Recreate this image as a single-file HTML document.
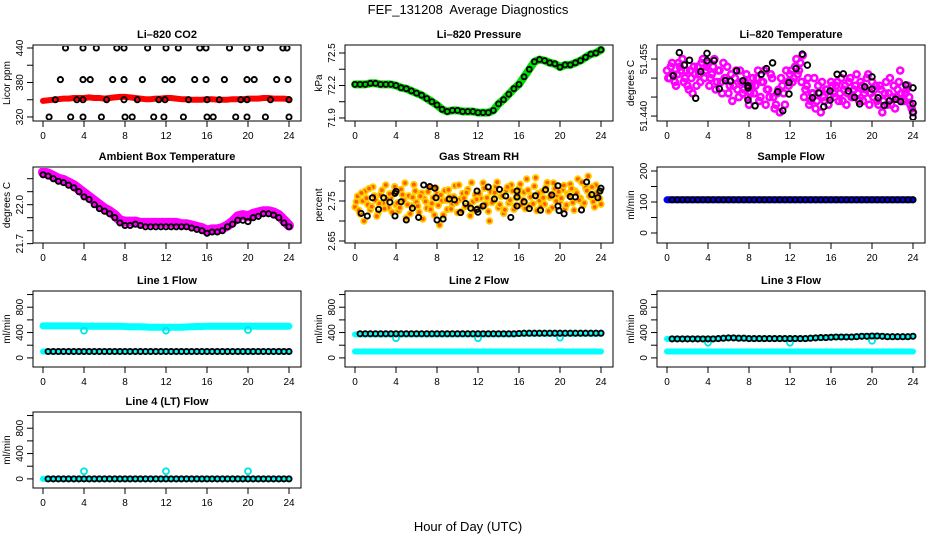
<!DOCTYPE html>
<html><head><meta charset="utf-8"><title>FEF_131208 Average Diagnostics</title>
<style>
html,body{margin:0;padding:0;background:#fff;}
svg{display:block;font-family:"Liberation Sans",sans-serif;}
</style></head>
<body>
<svg id="chart" width="936" height="540" viewBox="0 0 936 540" xmlns="http://www.w3.org/2000/svg">
<rect x="0" y="0" width="936" height="540" fill="#fff"/>
<text x="468" y="14" text-anchor="middle" font-size="13" style="white-space:pre">FEF_131208&#160; Average Diagnostics</text>
<text x="468" y="531" text-anchor="middle" font-size="13">Hour of Day (UTC)</text>
</svg>
<script>
// ---------- data ----------
const xTicks = [0,4,8,12,16,20,24];
const halfHours = [0,0.5,1,1.5,2,2.5,3,3.5,4,4.5,5,5.5,6,6.5,7,7.5,8,8.5,9,9.5,10,10.5,11,11.5,12,12.5,13,13.5,14,14.5,15,15.5,16,16.5,17,17.5,18,18.5,19,19.5,20,20.5,21,21.5,22,22.5,23,23.5,24];
const quarterHours = [0,0.25,0.5,0.75,1,1.25,1.5,1.75,2,2.25,2.5,2.75,3,3.25,3.5,3.75,4,4.25,4.5,4.75,5,5.25,5.5,5.75,6,6.25,6.5,6.75,7,7.25,7.5,7.75,8,8.25,8.5,8.75,9,9.25,9.5,9.75,10,10.25,10.5,10.75,11,11.25,11.5,11.75,12,12.25,12.5,12.75,13,13.25,13.5,13.75,14,14.25,14.5,14.75,15,15.25,15.5,15.75,16,16.25,16.5,16.75,17,17.25,17.5,17.75,18,18.25,18.5,18.75,19,19.25,19.5,19.75,20,20.25,20.5,20.75,21,21.25,21.5,21.75,22,22.25,22.5,22.75,23,23.25,23.5,23.75,24];
const quarterHoursB = [0.125,0.375,0.625,0.875,1.125,1.375,1.625,1.875,2.125,2.375,2.625,2.875,3.125,3.375,3.625,3.875,4.125,4.375,4.625,4.875,5.125,5.375,5.625,5.875,6.125,6.375,6.625,6.875,7.125,7.375,7.625,7.875,8.125,8.375,8.625,8.875,9.125,9.375,9.625,9.875,10.125,10.375,10.625,10.875,11.125,11.375,11.625,11.875,12.125,12.375,12.625,12.875,13.125,13.375,13.625,13.875,14.125,14.375,14.625,14.875,15.125,15.375,15.625,15.875,16.125,16.375,16.625,16.875,17.125,17.375,17.625,17.875,18.125,18.375,18.625,18.875,19.125,19.375,19.625,19.875,20.125,20.375,20.625,20.875,21.125,21.375,21.625,21.875,22.125,22.375,22.625,22.875,23.125,23.375,23.625,23.875];

// CO2
const co2Red = [348,349,350,351,352,352,353,353,353,354,353,353,352,353,354,355,355,354,353,352,351,351,352,352,353,353,352,351,351,350,350,350,351,351,350,350,350,351,351,351,352,352,352,353,353,352,352,352,351];
const co2BlackHours = [2.2,3.9,5.2,7.2,7.9,10.2,12,13.2,15.3,15.9,18.2,19.9,21.2,23.4,23.8, 1.7,3.9,4.6,6.8,7.9,9.7,11.9,12.6,14.8,15.9,17.7,19.9,20.6,22.8,23.9, 1.2,3.3,3.9,6.2,7.9,9.2,11.3,11.9,14.2,16,17.2,19.3,19.9,22.2,24, 0.6,2.7,3.9,5.7,8,8.7,10.8,11.8,13.7,16,16.6,18.8,19.9,21.7,24];
const co2BlackValues = [440,440,440,440,440,440,440,440,440,440,440,440,440,440,440, 385,385,385,385,385,385,385,385,385,385,385,385,385,385,385, 350,350,350,350,350,350,350,350,350,350,350,350,350,350,350, 320,320,320,320,320,320,320,320,320,320,320,320,320,320,320];

// Pressure
const pressure = [72.21,72.21,72.21,72.22,72.22,72.21,72.21,72.21,72.2,72.18,72.17,72.15,72.13,72.11,72.08,72.05,72.02,71.98,71.96,71.97,71.97,71.96,71.96,71.96,71.95,71.95,71.95,71.97,72.03,72.07,72.12,72.17,72.21,72.28,72.35,72.42,72.44,72.43,72.41,72.4,72.37,72.39,72.39,72.41,72.43,72.46,72.49,72.5,72.53];

// Li-820 temperature
const liTempMagenta = [51.452,51.450,51.454,51.449,51.451,51.453,51.455,51.450,51.448,51.452,51.446,51.451,51.453,51.449,51.455,51.452,51.454,
51.450,51.453,51.447,51.452,51.449,51.454,51.450,51.446,51.451,51.448,51.452,51.445,51.449,51.447,51.451,51.443,
51.448,51.446,51.450,51.444,51.449,51.452,51.447,51.445,51.450,51.442,51.446,51.441,51.448,51.443,51.449,51.451,
51.449,51.453,51.451,51.454,51.456,51.447,51.450,51.444,51.446,51.442,51.448,51.441,51.445,51.447,51.443,51.449,
51.446,51.448,51.444,51.450,51.447,51.443,51.449,51.445,51.447,51.451,51.444,51.448,51.446,51.450,51.443,51.449,
51.447,51.444,51.448,51.441,51.446,51.443,51.450,51.445,51.442,51.447,51.452,51.444,51.446,51.448,51.443,51.441];
const liTempMagentaB = [51.450,51.453,51.451,51.448,51.454,51.452,51.449,51.452,51.447,51.450,51.453,51.448,51.451,51.454,51.450,51.453,
51.448,51.451,51.455,51.449,51.452,51.446,51.450,51.453,51.448,51.444,51.450,51.447,51.452,51.446,51.449,51.445,
51.446,51.450,51.448,51.452,51.445,51.449,51.443,51.447,51.451,51.445,51.443,51.447,51.450,51.446,51.452,51.448,
51.452,51.450,51.455,51.452,51.449,51.445,51.448,51.443,51.446,51.450,51.444,51.446,51.449,51.444,51.447,51.445,
51.448,51.445,51.449,51.446,51.444,51.448,51.446,51.450,51.445,51.448,51.446,51.449,51.444,51.447,51.451,51.446,
51.445,51.448,51.443,51.447,51.444,51.449,51.446,51.443,51.448,51.445,51.449,51.446,51.444,51.447,51.445,51.442];
const liTempBlackHours = [0.6,1.2,1.7,2.2,2.8,3.3,3.9,3.9,4.6,5.1,5.7,6.2,6.8,7.4,7.9,7.9,7.9,8.6,9.2,9.7,10.3,10.8,11.3,11.9,11.9,12.6,13.2,13.7,14.2,14.8,15.3,15.9,15.9,16.6,17.2,17.7,18.3,18.8,19.3,20,20,20.6,21.2,21.7,22.3,22.8,23.3,24,24,24,24];
const liTempBlackValues = [51.4506,51.4567,51.4534,51.4547,51.4447,51.4517,51.4546,51.4565,51.4546,51.4472,51.4493,51.4492,51.4519,51.4493,51.448,51.4474,51.4442,51.4427,51.451,51.4525,51.454,51.4464,51.4414,51.4458,51.4488,51.4525,51.4563,51.4534,51.4448,51.4461,51.4425,51.4442,51.4466,51.451,51.4511,51.4466,51.4449,51.4432,51.4477,51.4503,51.4471,51.4448,51.4428,51.444,51.4444,51.4438,51.4482,51.4474,51.4433,51.441,51.4397];

// Ambient box temperature
const ambient = [22.23,22.22,22.2,22.18,22.17,22.15,22.13,22.1,22.06,22.04,22.0,21.97,21.95,21.93,21.9,21.86,21.84,21.84,21.85,21.84,21.83,21.83,21.83,21.83,21.83,21.83,21.83,21.83,21.83,21.82,21.81,21.8,21.78,21.79,21.79,21.8,21.83,21.85,21.88,21.88,21.87,21.9,21.91,21.93,21.93,21.92,21.9,21.86,21.83];
const ambientMagenta = [22.25,22.24,22.22,22.2,22.19,22.17,22.15,22.12,22.09,22.06,22.03,22.0,21.97,21.95,21.92,21.88,21.87,21.87,21.87,21.86,21.86,21.86,21.86,21.86,21.86,21.86,21.86,21.85,21.85,21.84,21.83,21.82,21.8,21.81,21.81,21.82,21.84,21.87,21.91,21.92,21.91,21.93,21.94,21.95,21.95,21.94,21.92,21.88,21.84];

// Gas stream RH
const rhA = [2.735,2.762,2.718,2.750,2.775,2.741,2.728,2.785,2.752,2.720,2.766,2.745,2.790,2.733,2.758,2.771,2.740,
2.726,2.779,2.752,2.708,2.763,2.738,2.791,2.747,2.722,2.770,2.756,2.732,2.784,2.744,2.715,2.768,
2.690,2.751,2.776,2.729,2.760,2.742,2.788,2.721,2.754,2.769,2.736,2.779,2.713,2.748,2.765,2.731,
2.757,2.795,2.742,2.724,2.773,2.750,2.786,2.733,2.762,2.719,2.777,2.745,2.790,2.729,2.758,2.781,
2.740,2.772,2.805,2.738,2.763,2.787,2.726,2.751,2.774,2.742,2.796,2.759,2.733,2.781,2.764,2.748,
2.778,2.731,2.768,2.792,2.746,2.775,2.805,2.757,2.739,2.783,2.812,2.761,2.748,2.790,2.770,2.742];
const rhB = [2.748,2.727,2.770,2.700,2.757,2.781,2.736,2.763,2.712,2.744,2.777,2.731,2.755,2.768,2.722,2.786,
2.745,2.733,2.766,2.795,2.741,2.718,2.759,2.775,2.737,2.762,2.705,2.749,2.773,2.729,2.758,2.783,
2.739,2.765,2.715,2.752,2.778,2.730,2.761,2.746,2.790,2.724,2.757,2.771,2.740,2.796,2.727,2.754,
2.768,2.735,2.782,2.758,2.700,2.746,2.771,2.797,2.741,2.763,2.728,2.785,2.752,2.775,2.738,2.766,
2.792,2.753,2.731,2.777,2.760,2.743,2.808,2.769,2.735,2.758,2.784,2.725,2.766,2.795,2.750,2.773,
2.757,2.789,2.740,2.764,2.781,2.727,2.770,2.752,2.797,2.745,2.776,2.762,2.785,2.735,2.771,2.756];
const rhBlackHours = [0.6,1.2,1.7,2.3,2.8,3.4,3.9,3.9,4.0,4.5,5.0,5.6,6.2,6.7,7.3,7.8,7.9,8.0,8.6,9.2,9.7,10.3,10.8,11.3,11.9,11.9,12.0,12.5,13,13.6,14.1,14.7,15.2,15.8,15.8,15.8,16.5,17,17.6,18.1,18.6,19.2,19.8,19.8,19.9,20.4,21,21.5,22.1,22.6,23.1,23.7,23.9,24];
const rhBlackValues = [2.719,2.7125,2.758,2.729,2.758,2.747,2.7125,2.769,2.774,2.748,2.7025,2.732,2.709,2.79,2.786,2.782,2.758,2.7025,2.705,2.755,2.753,2.721,2.744,2.732,2.729,2.775,2.722,2.7375,2.785,2.755,2.779,2.7625,2.709,2.76,2.775,2.7375,2.748,2.731,2.763,2.727,2.778,2.765,2.788,2.7375,2.726,2.718,2.761,2.76,2.7275,2.7975,2.766,2.758,2.775,2.782];

// Flows
const sampleBlue = [107,107,107,107,107,107,107,107,107,107,107,107,107,107,107,107,107,107,107,107,107,107,107,107,107,107,107,107,107,107,107,107,107,107,107,107,107,107,107,107,107,107,107,107,107,107,107,107,107];
const sampleBlack = [107,107,107,107,107,107,107,107,107,107,107,107,107,107,107,107,107,107,107,107,107,107,107,107,107,107,107,107,107,107,107,107,107,107,107,107,107,107,107,107,107,107,107,107,107,107,107,107,107];
const line1CyanHigh = [505,505,505,505,505,505,505,505,500,500,500,500,500,500,500,500,495,490,490,490,488,485,485,485,485,485,485,485,488,490,495,495,500,500,500,500,500,500,500,500,500,500,500,500,500,500,500,500,500];
const line1CyanLow = [100,100,100,100,100,100,100,100,100,100,100,100,100,100,100,100,100,100,100,100,100,100,100,100,100,100,100,100,100,100,100,100,100,100,100,100,100,100,100,100,100,100,100,100,100,100,100,100,100];
const line1Black = [100,100,100,100,100,100,100,100,100,100,100,100,100,100,100,100,100,100,100,100,100,100,100,100,100,100,100,100,100,100,100,100,100,100,100,100,100,100,100,100,100,100,100,100,100,100,100,100,100];
const line1OutlierHours = [4,12,20];
const line1OutlierValues = [430,430,440];
const line2Black = [380,380,380,380,380,380,380,380,380,380,380,380,380,380,380,380,380,380,380,380,380,380,380,380,380,380,380,380,380,380,380,380,385,390,390,390,390,390,390,390,390,390,390,390,390,390,390,390,390];
const line2CyanHigh = [370,370,370,370,370,370,370,370,370,370,370,370,370,370,370,370,370,370,370,370,370,370,370,370,370,370,370,370,370,370,370,370,380,380,380,380,380,380,380,380,380,380,380,380,380,380,380,380,380];
const line2CyanLow = [100,100,100,100,100,100,100,100,100,100,100,100,100,100,100,100,100,100,100,100,100,100,100,100,100,100,100,100,100,100,100,100,100,100,100,100,100,100,100,100,100,100,100,100,100,100,100,100,100];
const line2OutlierHours = [4,12,20];
const line2OutlierValues = [310,310,320];
const line3Black = [300,300,300,300,300,300,300,300,300,300,305,310,315,315,310,310,305,305,305,305,305,305,305,305,305,305,305,305,310,315,320,320,325,330,330,330,330,335,340,340,345,345,340,335,335,335,335,335,340];
const line3CyanHigh = [300,300,300,300,300,300,300,300,300,300,305,310,315,315,310,310,305,305,305,305,305,305,305,305,305,305,305,305,310,315,320,320,325,330,330,330,330,335,340,340,345,345,340,335,335,335,335,335,340];
const line3CyanLow = [100,100,100,100,100,100,100,100,100,100,100,100,100,100,100,100,100,100,100,100,100,100,100,100,100,100,100,100,100,100,100,100,100,100,100,100,100,100,100,100,100,100,100,100,100,100,100,100,100];
const line3OutlierHours = [4,12,20];
const line3OutlierValues = [240,240,270];
const line4Black = [0,0,0,0,0,0,0,0,0,0,0,0,0,0,0,0,0,0,0,0,0,0,0,0,0,0,0,0,0,0,0,0,0,0,0,0,0,0,0,0,0,0,0,0,0,0,0,0,0];
const line4Cyan = [0,0,0,0,0,0,0,0,0,0,0,0,0,0,0,0,0,0,0,0,0,0,0,0,0,0,0,0,0,0,0,0,0,0,0,0,0,0,0,0,0,0,0,0,0,0,0,0,0];
const line4OutlierHours = [4,12,20];
const line4OutlierValues = [120,120,120];

// axis ticks
const co2Ticks = [320,350,380,410,440];
const co2Labels = ["320","","380","","440"];
const presTicks = [71.9,72.05,72.2,72.35,72.5];
const presLabels = ["71.9","","72.2","","72.5"];
const liTempTicks = [51.440,51.445,51.450,51.455];
const liTempLabels = ["51.440","","","51.455"];
const ambTicks = [21.7,21.8,21.9,22.0,22.1,22.2];
const ambLabels = ["21.7","","","22.0","",""];
const rhTicks = [2.65,2.70,2.75,2.80];
const rhLabels = ["2.65","","2.75",""];
const sampleTicks = [0,50,100,150,200];
const sampleLabels = ["0","","100","","200"];
const flowTicks = [0,200,400,600,800,1000];
const flowLabels = ["0","","400","","800",""];

// ---------- drawing ----------
const NS = "http://www.w3.org/2000/svg";
const svg = document.getElementById("chart");
const colLeft = [33,345,657];
const rowTop = [45,167,291,412];
const BW = 268, BH = 76;

function mk(tag, attrs, parent){
  const e = document.createElementNS(NS, tag);
  for (const k in attrs) e.setAttribute(k, attrs[k]);
  (parent || svg).appendChild(e);
  return e;
}

function makePanel(key, col, row, title, ylab, ymin, ymax, ticks, labels){
  const L = colLeft[col], T = rowTop[row];
  const g = mk("g", {});
  
  
  const clipId = "clip-" + key;
  const cp = mk("clipPath", {id: clipId}, g);
  mk("rect", {x: L+1, y: T+1, width: BW-2, height: BH-2}, cp);
  const xs = h => L + 10 + h * (246/24);
  const ys = v => T + BH - (v - ymin) / (ymax - ymin) * BH;
  const marks = mk("g", {"clip-path": "url(#" + clipId + ")"}, g);
  
  
  const box = mk("rect", {x: L, y: T, width: BW, height: BH, fill: "none", stroke: "#000", "stroke-width": 1}, g);
  
  
  const tt = mk("text", {x: L + BW/2, y: T - 7, "text-anchor": "middle", "font-size": 11, "font-weight": "bold"}, g);
  tt.textContent = title;
  
  
  const xa = mk("g", {}, g);
  
  
  const yb = T + BH;
  mk("line", {x1: xs(0), x2: xs(24), y1: yb, y2: yb, stroke: "#000"}, xa);
  xTicks.forEach(t => {
    mk("line", {x1: xs(t), x2: xs(t), y1: yb, y2: yb + 6, stroke: "#000"}, xa);
    const lb = mk("text", {x: xs(t), y: yb + 18, "text-anchor": "middle", "font-size": 10}, xa);
    lb.textContent = t;
    
    
  });
  const ya = mk("g", {}, g);
  
  
  ticks.forEach((t, i) => {
    const y = ys(t);
    mk("line", {x1: L - 6, x2: L, y1: y, y2: y, stroke: "#000"}, ya);
    if (labels[i]) {
      const lb = mk("text", {x: 0, y: 0, transform: "translate(" + (L - 10) + "," + y + ") rotate(-90)", "text-anchor": "middle", "font-size": 10}, ya);
      lb.textContent = labels[i];
      
      
    }
  });
  const yt = mk("text", {x: 0, y: 0, transform: "translate(" + (L - 23) + "," + (T + BH/2) + ") rotate(-90)", "text-anchor": "middle", "font-size": 10}, g);
  yt.textContent = ylab;
  
  
  return {xs, ys, marks};
}

function band(p, hours, vals, color, width, name){
  let d = "";
  hours.forEach((h, i) => { d += (i ? "L" : "M") + p.xs(h).toFixed(1) + "," + p.ys(vals[i]).toFixed(1); });
  const e = mk("path", {d: d, fill: "none", stroke: color, "stroke-width": width, "stroke-linejoin": "round", "stroke-linecap": "round"}, p.marks);
  
  
}
function pts(p, hours, vals, stroke, fill, r, sw, name){
  const grp = mk("g", {}, p.marks);
  
  
  hours.forEach((h, i) => {
    const c = mk("circle", {cx: p.xs(h).toFixed(1), cy: p.ys(vals[i]).toFixed(1), r: r, fill: fill, stroke: stroke, "stroke-width": sw}, grp);
    
    
  });
}
const blackHalf = halfHours.slice(1);

let p = makePanel("co2", 0, 0, "Li\u2013820 CO2", "Licor ppm", 313, 445.2, co2Ticks, co2Labels);
band(p, halfHours, co2Red, "#ff0000", 6, "co2-red-series");
pts(p, co2BlackHours, co2BlackValues, "#000", "none", 2.6, 1.9, "co2-black-series");

p = makePanel("pressure", 1, 0, "Li\u2013820 Pressure", "kPa", 71.872, 72.574, presTicks, presLabels);
band(p, halfHours, pressure, "#00e000", 8, "pressure-green-series");
pts(p, halfHours, pressure, "#000", "none", 2.5, 1.8, "pressure-black-series");

p = makePanel("li-temp", 2, 0, "Li\u2013820 Temperature", "degrees C", 51.4387, 51.4587, liTempTicks, liTempLabels);
pts(p, quarterHours, liTempMagenta, "#ff00ff", "none", 3, 2.6, "li-temp-magenta-series");
pts(p, quarterHoursB, liTempMagentaB, "#ff00ff", "none", 3, 2.6, "li-temp-magenta-series-b");
pts(p, liTempBlackHours, liTempBlackValues, "#000", "none", 2.8, 1.9, "li-temp-black-series");

p = makePanel("ambient", 0, 1, "Ambient Box Temperature", "degrees C", 21.705, 22.29, ambTicks, ambLabels);
band(p, halfHours, ambientMagenta, "#ff00ff", 10, "ambient-magenta-series");
pts(p, halfHours, ambient, "#000", "none", 2.6, 1.9, "ambient-black-series");

p = makePanel("rh", 1, 1, "Gas Stream RH", "percent", 2.645, 2.835, rhTicks, rhLabels);
pts(p, quarterHours, rhA, "#ffcc00", "#ff5a00", 2.8, 1.8, "rh-orange-series");
pts(p, quarterHoursB, rhB, "#ffcc00", "#ff5a00", 2.8, 1.8, "rh-orange-series-b");
pts(p, rhBlackHours, rhBlackValues, "#000", "none", 2.6, 1.9, "rh-black-series");

p = makePanel("sample-flow", 2, 1, "Sample Flow", "ml/min", -32.3, 212.9, sampleTicks, sampleLabels);
band(p, halfHours, sampleBlue, "#0000ee", 7, "sample-flow-blue-series");
pts(p, halfHours.slice(1), sampleBlack.slice(1), "#000", "none", 2.6, 1.9, "sample-flow-black-series");

p = makePanel("line1-flow", 0, 2, "Line 1 Flow", "ml/min", -144, 1056, flowTicks, flowLabels);
band(p, halfHours, line1CyanHigh, "#00ffff", 7, "line1-cyan-high-series");
band(p, halfHours, line1CyanLow, "#00ffff", 6, "line1-cyan-low-series");
pts(p, line1OutlierHours, line1OutlierValues, "#00e5e5", "none", 3, 1.8, "line1-cyan-outliers");
pts(p, blackHalf, line1Black.slice(1), "#000", "none", 2.6, 1.9, "line1-black-series");

p = makePanel("line2-flow", 1, 2, "Line 2 Flow", "ml/min", -144, 1056, flowTicks, flowLabels);
band(p, halfHours, line2CyanHigh, "#00ffff", 6, "line2-cyan-high-series");
band(p, halfHours, line2CyanLow, "#00ffff", 6, "line2-cyan-low-series");
pts(p, line2OutlierHours, line2OutlierValues, "#00e5e5", "none", 3, 1.8, "line2-cyan-outliers");
pts(p, blackHalf, line2Black.slice(1), "#000", "none", 2.6, 1.9, "line2-black-series");

p = makePanel("line3-flow", 2, 2, "Line 3 Flow", "ml/min", -144, 1056, flowTicks, flowLabels);
band(p, halfHours, line3CyanHigh, "#00ffff", 6, "line3-cyan-high-series");
band(p, halfHours, line3CyanLow, "#00ffff", 6, "line3-cyan-low-series");
pts(p, line3OutlierHours, line3OutlierValues, "#00e5e5", "none", 3, 1.8, "line3-cyan-outliers");
pts(p, blackHalf, line3Black.slice(1), "#000", "none", 2.6, 1.9, "line3-black-series");

p = makePanel("line4-flow", 0, 3, "Line 4 (LT) Flow", "ml/min", -144, 1056, flowTicks, flowLabels);
band(p, halfHours, line4Cyan, "#00ffff", 6, "line4-cyan-series");
pts(p, line4OutlierHours, line4OutlierValues, "#00e5e5", "none", 3, 1.8, "line4-cyan-outliers");
pts(p, blackHalf, line4Black.slice(1), "#000", "none", 2.6, 1.9, "line4-black-series");
</script>
</body></html>
